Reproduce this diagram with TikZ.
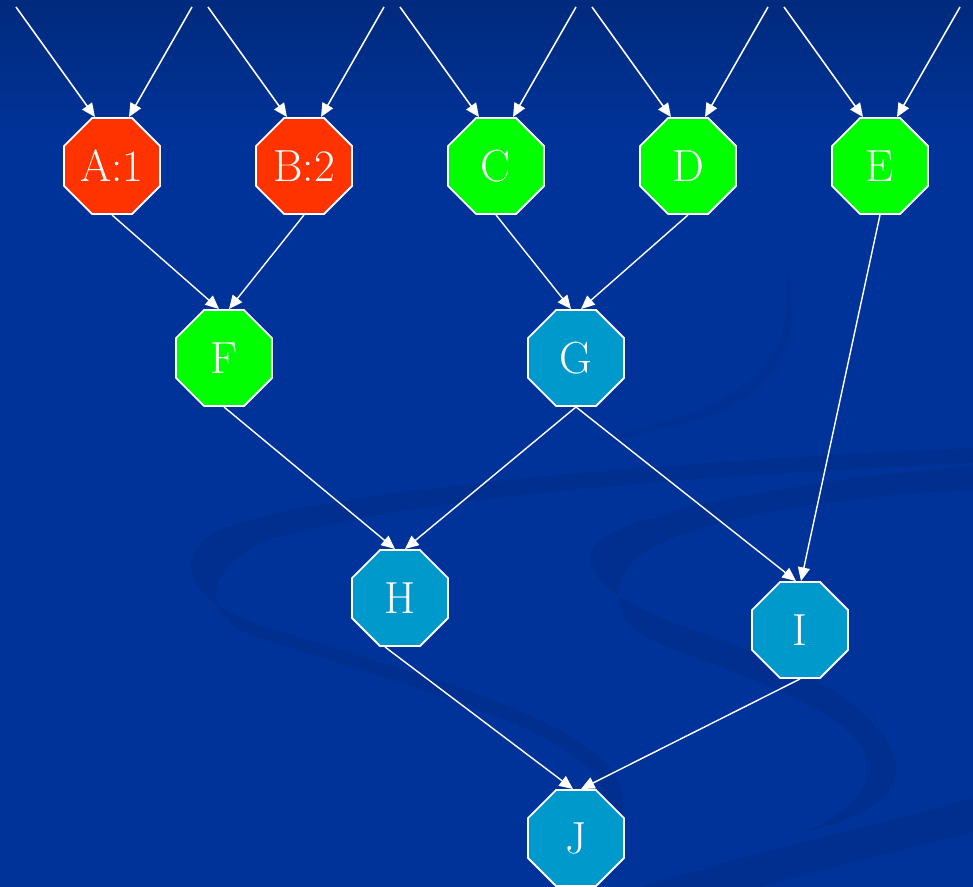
\documentclass[tikz,border=0pt]{standalone}
\usetikzlibrary{arrows.meta,shapes.geometric,calc}
\definecolor{bgblue}{RGB}{0,51,153}
\definecolor{bgtop}{RGB}{0,42,125}
\definecolor{swirl}{RGB}{0,47,143}
\definecolor{octred}{RGB}{255,51,0}
\definecolor{octgreen}{RGB}{0,255,0}
\definecolor{octblue}{RGB}{0,153,204}
\tikzset{
  oct/.style={regular polygon, regular polygon sides=8, inner sep=0pt,
    minimum size=2.6cm, draw=white, line width=1.3pt, text=white,
    font=\fontsize{32}{32}\selectfont},
  redoct/.style={oct, fill=octred},
  greenoct/.style={oct, fill=octgreen},
  blueoct/.style={oct, fill=octblue},
  inarrow/.style={draw=white, line width=1.1pt,
    -{Triangle[length=0.34cm, width=0.3cm]}},
  edge/.style={draw=white, line width=1pt,
    -{Triangle[length=0.34cm, width=0.3cm]}},
}

\begin{document}
\begin{tikzpicture}[x=0.025cm, y=-0.025cm]
    \useasboundingbox (0,0) rectangle (973,887);
    % --- slide background with its swirls ---
    \fill[bgblue] (0,0) rectangle (973,887);
    \shade[top color=bgtop, bottom color=bgblue] (0,0) rectangle (973,140);
    \fill[swirl] (973,448) .. controls (600,465) and (300,495) .. (220,530)
      .. controls (170,555) and (185,600) .. (260,625)
      .. controls (420,675) and (600,720) .. (622,790)
      .. controls (630,830) and (610,850) .. (590,860)
      .. controls (605,840) and (612,810) .. (600,785)
      .. controls (575,730) and (420,690) .. (250,635)
      .. controls (200,615) and (205,565) .. (270,540)
      .. controls (400,500) and (650,478) .. (973,463) -- cycle;
    \fill[swirl] (973,466) .. controls (800,480) and (640,510) .. (600,540)
      .. controls (575,565) and (600,595) .. (680,625)
      .. controls (780,660) and (880,700) .. (895,760)
      .. controls (905,795) and (860,820) .. (805,832)
      .. controls (850,810) and (875,790) .. (865,755)
      .. controls (850,710) and (740,675) .. (650,640)
      .. controls (610,620) and (610,580) .. (640,555)
      .. controls (700,515) and (850,495) .. (973,490) -- cycle;
    \fill[swirl] (640,887) .. controls (760,850) and (880,825) .. (973,798)
      -- (973,832) .. controls (900,850) and (820,870) .. (760,887) -- cycle;
    \fill[swirl, opacity=0.5] (785,262) .. controls (805,320) and (790,390) .. (700,420)
      .. controls (650,435) and (610,440) .. (580,442)
      .. controls (660,425) and (770,400) .. (783,330)
      .. controls (788,300) and (787,280) .. (785,262) -- cycle;

    % --- the ten octagons ---
    \node[redoct]   (A) at (112,166) {A:1};
    \node[redoct]   (B) at (304,166) {B:2};
    \node[greenoct] (C) at (496,166) {C};
    \node[greenoct] (D) at (688,166) {D};
    \node[greenoct] (E) at (880,166) {E};
    \node[greenoct] (F) at (224,358) {F};
    \node[blueoct]  (G) at (576,358) {G};
    \node[blueoct]  (H) at (400,598) {H};
    \node[blueoct]  (I) at (800,630) {I};
    \node[blueoct]  (J) at (576,838) {J};

    % --- two incoming arrows on every top node ---
    \foreach \n/\x in {A/112, B/304, C/496, D/688, E/880} {
      \coordinate (\n in1) at (\x-96,7);
      \coordinate (\n in2) at (\x+80,7);
      \draw[inarrow] (\n in1) -- ($(\n.north)+(-17,0)$);
      \draw[inarrow] (\n in2) -- ($(\n.north)+(17,0)$);
    }

    % --- edges between the octagons ---
    \draw[edge] (A.south) -- ($(F.north)+(-5,0)$);
    \draw[edge] (B.south) -- ($(F.north)+(5,0)$);
    \draw[edge] (C.south) -- ($(G.north)+(-5,0)$);
    \draw[edge] (D.south) -- ($(G.north)+(5,0)$);
    \draw[edge] (E.south) -- ($(I.north)+(1,0)$);
    \draw[edge] (F.south) -- ($(H.north)+(-5,0)$);
    \draw[edge] (G.south) -- ($(H.north)+(5,0)$);
    \draw[edge] (G.south) -- ($(I.north)+(-4,0)$);
    \draw[edge] ($(H.south)+(-15,0)$) -- ($(J.north)+(-3,0)$);
    \draw[edge] (I.south) -- ($(J.north)+(5,0)$);
  \end{tikzpicture}
\end{document}
